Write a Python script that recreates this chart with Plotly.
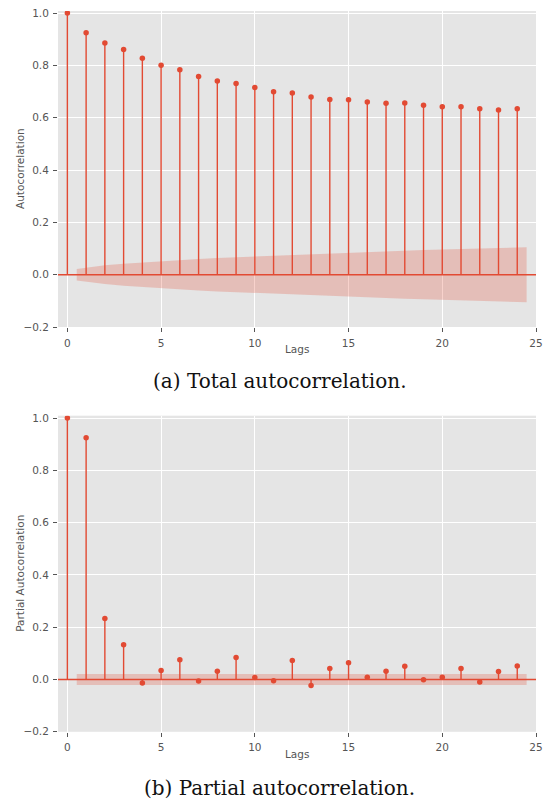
import plotly.graph_objects as go

W, H = 552, 804

lags = list(range(25))
acf_vals = [1.0, 0.925, 0.886, 0.861, 0.827, 0.801, 0.783, 0.758, 0.740, 0.731,
            0.716, 0.699, 0.695, 0.679, 0.670, 0.669, 0.660, 0.655, 0.656, 0.648,
            0.642, 0.642, 0.634, 0.630, 0.634]
pacf_vals = [1.0, 0.925, 0.233, 0.133, -0.013, 0.034, 0.076, -0.006, 0.032, 0.084,
             0.008, -0.005, 0.073, -0.023, 0.042, 0.064, 0.009, 0.032, 0.051, -0.001,
             0.009, 0.042, -0.010, 0.031, 0.052]

# confidence band (x positions follow statsmodels: first/last lag shifted by 0.5)
band_x = [0.5] + list(range(2, 24)) + [24.5]
acf_band = [0.022, 0.036, 0.042, 0.047, 0.052, 0.056, 0.060, 0.064, 0.067, 0.070,
            0.073, 0.076, 0.079, 0.081, 0.084, 0.087, 0.090, 0.092, 0.094, 0.096,
            0.098, 0.100, 0.102, 0.105]
pacf_band = [0.021] * len(band_x)

x_ticks = [0, 5, 10, 15, 20, 25]
y_ticks = [-0.2, 0.0, 0.2, 0.4, 0.6, 0.8, 1.0]
captions = ["(a) Total autocorrelation.", "(b) Partial autocorrelation."]
y_titles = ["Autocorrelation", "Partial Autocorrelation"]

RED = "#E24A33"
BAND = "rgba(226,74,51,0.25)"
BG = "#E5E5E5"
TXT = "#555555"


def px(x):
    return x / W


def py(y):
    return 1 - y / H


fig = go.Figure()

panels = [
    dict(vals=acf_vals, band=acf_band, xa="x", ya="y",
         ydom=[py(327), py(11)], yrange=[-0.2, 1.008], cap_y=py(381)),
    dict(vals=pacf_vals, band=pacf_band, xa="x2", ya="y2",
         ydom=[py(731.8), py(415.7)], yrange=[-0.2, 1.009], cap_y=py(788)),
]

xdom = [px(58), px(536)]

for i, p in enumerate(panels):
    # band
    fig.add_trace(go.Scatter(x=band_x, y=p["band"], mode="lines", line=dict(width=0),
                             xaxis=p["xa"], yaxis=p["ya"], hoverinfo="skip", showlegend=False))
    fig.add_trace(go.Scatter(x=band_x, y=[-v for v in p["band"]], mode="lines",
                             line=dict(width=0), fill="tonexty", fillcolor=BAND,
                             xaxis=p["xa"], yaxis=p["ya"], hoverinfo="skip", showlegend=False))
    # stems
    sx, sy = [], []
    for l, v in zip(lags, p["vals"]):
        sx += [l, l, None]
        sy += [0, v, None]
    fig.add_trace(go.Scatter(x=sx, y=sy, mode="lines", line=dict(color=RED, width=1.4),
                             xaxis=p["xa"], yaxis=p["ya"], hoverinfo="skip", showlegend=False))
    # markers
    fig.add_trace(go.Scatter(x=lags, y=p["vals"], mode="markers",
                             marker=dict(color=RED, size=5.5),
                             xaxis=p["xa"], yaxis=p["ya"], showlegend=False))
    # zero line
    fig.add_shape(type="line", xref=f"{p['xa']} domain", yref=p["ya"],
                  x0=0, x1=1, y0=0, y1=0, line=dict(color=RED, width=1.6))
    # caption
    fig.add_annotation(text=captions[i], xref="paper", yref="paper", x=px(279.5),
                       y=p["cap_y"], xanchor="center", yanchor="middle", showarrow=False,
                       font=dict(family="DejaVu Serif", size=20, color="#111111"))
    # y title
    fig.add_annotation(text=y_titles[i], xref="paper", yref="paper", x=px(20),
                       y=(p["ydom"][0] + p["ydom"][1]) / 2, xanchor="center",
                       yanchor="middle", textangle=-90, showarrow=False,
                       font=dict(family="DejaVu Sans", size=10.5, color=TXT))
    # x title
    fig.add_annotation(text="Lags", xref="paper", yref="paper", x=px(297),
                       y=p["ydom"][0] - 22 / H, xanchor="center", yanchor="middle",
                       showarrow=False, font=dict(family="DejaVu Sans", size=10.5, color=TXT))

axis_common = dict(showgrid=True, gridcolor="white", gridwidth=1, zeroline=False,
                   ticks="outside", ticklen=4, tickwidth=1, tickcolor=TXT,
                   tickfont=dict(family="DejaVu Sans", size=10.5, color=TXT),
                   showline=False, automargin=False, fixedrange=True,
                   ticklabeloverflow="allow")

for i, p in enumerate(panels):
    sfx = "" if i == 0 else "2"
    fig.update_layout(**{
        f"xaxis{sfx}": dict(domain=xdom, range=[-0.5, 25], tickvals=x_ticks,
                            anchor=f"y{sfx}", ticklabelstandoff=2, **axis_common),
        f"yaxis{sfx}": dict(domain=p["ydom"], range=p["yrange"], tickvals=y_ticks,
                            ticktext=[f"{v:.1f}".replace("-", "\u2212") for v in y_ticks],
                            anchor=f"x{sfx}", ticklabelstandoff=2, **axis_common),
    })

fig.update_layout(width=W, height=H, margin=dict(l=0, r=0, t=0, b=0),
                  plot_bgcolor=BG, paper_bgcolor="white", showlegend=False)

# remove the default 8px page margin so the figure sits at the window's origin
fig.write_html("out.html", config={"displayModeBar": False, "staticPlot": True},
               post_script="document.body.style.margin='0';document.body.style.overflow='hidden';")
